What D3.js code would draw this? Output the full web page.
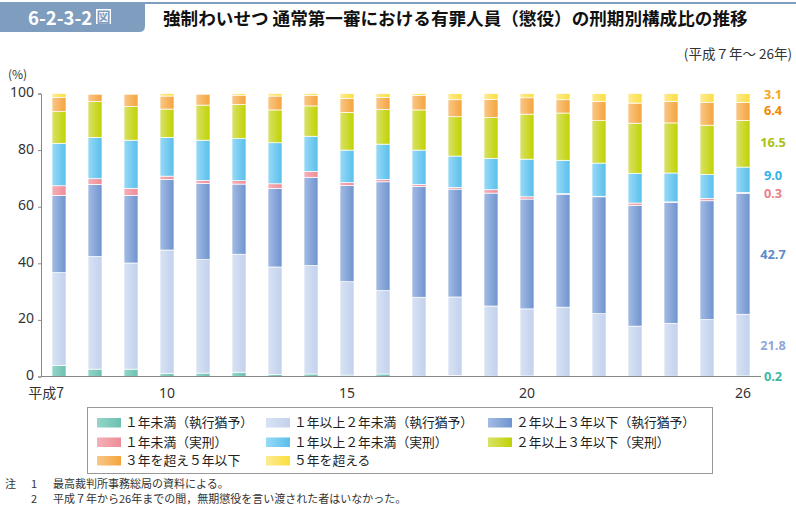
<!DOCTYPE html>
<html><head><meta charset="utf-8">
<script src="https://cdn.jsdelivr.net/npm/d3@7"></script>
<style>
body{margin:0;background:#fff;}
svg{display:block;font-family:"Noto Sans CJK JP","Noto Sans",sans-serif;}
</style></head>
<body>
<svg id="chart" width="796" height="510"></svg>
<script>
const years = [7,8,9,10,11,12,13,14,15,16,17,18,19,20,21,22,23,24,25,26];
const tickYears = [7,10,15,20,26];
const seriesNames = ["１年未満（執行猶予）","１年以上２年未満（執行猶予）","２年以上３年以下（執行猶予）","１年未満（実刑）","１年以上２年未満（実刑）","２年以上３年以下（実刑）","３年を超え５年以下","５年を超える"];
const s1 = [3.9,2.6,2.6,1.1,1.2,1.5,0.7,0.9,0.5,0.9,0.1,0.4,0.1,0.2,0.0,0.0,0.0,0.1,0.0,0.2];
const s2 = [32.8,39.8,37.5,43.6,40.1,41.7,38.0,38.3,33.0,29.5,27.9,27.7,24.8,23.7,24.5,22.2,17.8,18.7,20.1,21.8];
const s3 = [27.3,25.5,23.9,24.9,26.9,24.8,27.8,31.2,34.0,38.4,39.2,38.1,39.9,38.8,39.9,41.3,42.7,42.7,42.0,42.7];
const s4 = [3.4,2.0,2.5,1.2,1.1,1.2,1.6,2.1,1.0,0.8,0.7,0.6,1.2,0.8,0.2,0.2,0.8,0.2,0.8,0.3];
const s5 = [15.0,14.6,17.0,13.7,14.2,14.9,14.5,12.4,11.5,12.5,12.1,11.1,11.1,13.3,11.8,11.7,10.5,10.2,8.5,9.0];
const s6 = [11.2,12.7,11.9,10.0,12.4,12.0,11.6,10.7,13.3,12.3,14.2,13.9,14.4,15.9,16.7,15.0,17.7,17.7,17.4,16.5];
const s7 = [5.0,2.6,4.4,4.6,3.9,3.3,4.9,3.7,4.9,4.2,5.1,6.0,6.4,5.8,4.7,6.8,7.1,7.6,8.1,6.4];
const s8 = [1.4,0.2,0.2,0.9,0.2,0.6,0.9,0.7,1.8,1.4,0.7,2.2,2.1,1.5,2.2,2.8,3.4,2.8,3.1,3.1];
const yTicks = [0,20,40,60,80,100];

const allSeries = [s1,s2,s3,s4,s5,s6,s7,s8];
const colL = ["#94d6c9","#d8e2f4","#a2bbe3","#f5b0b8","#98daf6","#d9e26a","#f9c788","#fdeb94"];
const colR = ["#6cc0b0","#c2d1ed","#6f94d0","#ee8c97","#58bfeb","#c0d200","#f4a43c","#fbdf3e"];
const labCol = ["#3db7a0","#8ea8da","#5d8acb","#ec7f8a","#33b2e6","#a9c21b","#f08a00","#f5a623"];

const svg = d3.select("#chart");
const defs = svg.append("defs");
colL.forEach((c,i)=>{
  const g = defs.append("linearGradient").attr("id","g"+i).attr("x1","0").attr("x2","1").attr("y1","0").attr("y2","0");
  g.append("stop").attr("offset","0").attr("stop-color",c);
  g.append("stop").attr("offset","1").attr("stop-color",colR[i]);
});

// header
const hc = "#7f9dbf";
svg.append("rect").attr("x",140).attr("y",2).attr("width",656).attr("height",2).attr("fill",hc);
svg.append("path").attr("d","M0,2 H145 V26 Q145,32 139,32 H0 Z").attr("fill",hc);
svg.append("text").attr("x",28).attr("y",24.5).attr("fill","#fff").attr("font-size",18.5).attr("font-weight","bold").text("6-2-3-2");
svg.append("rect").attr("x",96).attr("y",9).attr("width",15).attr("height",15).attr("fill","#fff");
svg.append("text").attr("x",103.5).attr("y",22).attr("text-anchor","middle").attr("fill",hc).attr("font-size",14).attr("font-weight","bold").text("図");
svg.append("text").attr("x",163).attr("y",24.5).attr("fill","#111").attr("font-size",17.6).attr("font-weight","bold")
  .text("強制わいせつ 通常第一審における有罪人員（懲役）の刑期別構成比の推移");
svg.append("text").attr("x",792).attr("y",59).attr("text-anchor","end").attr("fill","#333").attr("font-size",13.5).text("(平成７年～ 26年)");

// scales
const x = d3.scaleBand().domain(years).range([41,761]).paddingInner(22/36).paddingOuter(11/36);
const y = d3.scaleLinear().domain([0,100]).range([376.5,93.5]);

const table = years.map((yr,i)=>{const o={year:yr}; allSeries.forEach((s,k)=>o["k"+k]=s[i]); return o;});
const keys = allSeries.map((s,k)=>"k"+k);
const stacked = d3.stack().keys(keys)(table);

svg.append("g").selectAll("g").data(stacked).join("g")
  .attr("fill",(d,i)=>"url(#g"+i+")")
  .selectAll("rect").data(d=>d).join("rect")
  .attr("x",d=>x(d.data.year))
  .attr("width",x.bandwidth())
  .attr("y",d=>y(d[1]))
  .attr("height",d=>Math.max(0,y(d[0])-y(d[1])))
  .attr("stroke","#fff").attr("stroke-width",0.7);

// axes
const yAxis = svg.append("g").attr("transform","translate(41,0)")
  .call(d3.axisLeft(y).tickValues(yTicks).tickSize(3).tickPadding(4));
yAxis.select(".domain").attr("stroke","#888");
yAxis.selectAll(".tick line").attr("stroke","#888");
yAxis.selectAll("text").attr("font-size",14).attr("fill","#333").attr("dy","0.22em").attr("font-family","'Noto Sans','Noto Sans CJK JP',sans-serif");

svg.append("line").attr("x1",41).attr("x2",761).attr("y1",376.5).attr("y2",376.5).attr("stroke","#888");
svg.append("text").attr("x",8).attr("y",79).attr("font-size",12).attr("fill","#333").text("(%)");

const xl = svg.append("g").attr("font-size",14).attr("fill","#333");
tickYears.forEach(t=>{
  const cx = x(t)+x.bandwidth()/2;
  if(t===7){
    xl.append("text").attr("x",cx+5).attr("y",398).attr("text-anchor","end").text("平成7");
  } else {
    xl.append("text").attr("x",cx).attr("y",398).attr("text-anchor","middle").attr("font-family","'Noto Sans',sans-serif").text(t);
  }
});

// right labels (last year)
const lastIdx = years.length-1;
const labelDy = [0,0,0,0,-5,-2,-1,-4];
stacked.forEach((s,k)=>{
  const d = s[lastIdx];
  const mid = (d[0]+d[1])/2;
  svg.append("text").attr("x",773).attr("y",y(mid)+5+labelDy[k])
    .attr("text-anchor","middle")
    .attr("font-size",12.8).attr("font-weight","bold").attr("fill",labCol[k])
    .attr("font-family","'Noto Sans',sans-serif")
    .text(d3.format(".1f")(allSeries[k][lastIdx]));
});

// legend
const lg = svg.append("g");
lg.append("rect").attr("x",87.5).attr("y",407.5).attr("width",625).attr("height",66).attr("fill","none").attr("stroke","#999");
const colX = [97,266,488];
const rowY = [422.5,442,460.5];
seriesNames.forEach((n,i)=>{
  const c = i%3, r = Math.floor(i/3);
  lg.append("rect").attr("x",colX[c]).attr("y",rowY[r]-4.5).attr("width",24).attr("height",9.5).attr("fill","url(#g"+i+")");
  lg.append("text").attr("x",colX[c]+28).attr("y",rowY[r]+4.5).attr("font-size",12.8).attr("fill","#222").text(n);
});

// notes
const nt = svg.append("g").attr("font-size",11).attr("fill","#333");
nt.append("text").attr("x",5).attr("y",488).text("注");
nt.append("text").attr("x",31).attr("y",488).text("1");
nt.append("text").attr("x",53).attr("y",488).text("最高裁判所事務総局の資料による。");
nt.append("text").attr("x",31).attr("y",503).text("2");
nt.append("text").attr("x",53).attr("y",503).text("平成７年から26年までの間，無期懲役を言い渡された者はいなかった。");
</script>
</body></html>
